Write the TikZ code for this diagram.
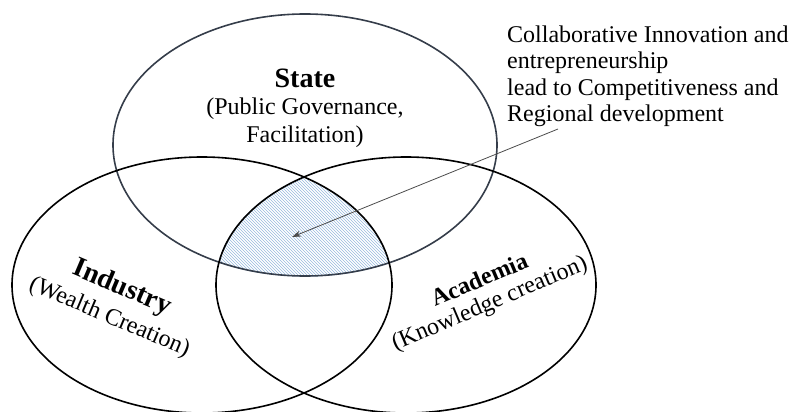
\documentclass[tikz,border=0pt]{standalone}
\usepackage{fontspec}
\setmainfont{Liberation Serif}
\usetikzlibrary{patterns,arrows.meta}
\definecolor{slate}{HTML}{353D4A}
\definecolor{hatchblue}{HTML}{96B8DE}
\definecolor{rimblue}{HTML}{B3CDE9}
\tikzset{
  ring/.style={line width=1.6pt, black},
  blurb/.style={font=\fontsize{24}{26.5}\selectfont, align=left, inner sep=0pt},
  sector/.style={align=center, inner sep=0pt}
}
\newcommand{\stateell}{(305,145) ellipse [x radius=192pt, y radius=131pt]}
\newcommand{\industryell}{(202,285) ellipse [x radius=190pt, y radius=128pt]}
\newcommand{\academiaell}{(406,285) ellipse [x radius=190pt, y radius=128pt]}
\newcommand{\headline}[2]{{\fontsize{#1}{#1}\selectfont\bfseries #2}}
\begin{document}
\begin{tikzpicture}[x=1pt, y=-1pt]
     \useasboundingbox (0,0) rectangle (795,412);

     % common core of the three spheres
     \begin{scope}
       \clip \stateell;
       \clip \industryell;
       \fill[pattern=north west lines, pattern color=hatchblue] \academiaell;
       \draw[rimblue, line width=1.2pt] \academiaell;
     \end{scope}
     \begin{scope}
       \clip \academiaell;
       \clip \industryell;
       \draw[rimblue, line width=1.2pt] \stateell;
     \end{scope}

     \draw[ring, slate] \stateell;
     \draw[ring] \industryell;
     \draw[ring] \academiaell;

     \node[sector, font=\fontsize{24}{27.5}\selectfont] (state) at (305,108)
       {\headline{28}{State}\\ (Public Governance,\\ Facilitation)};
     \node[sector, rotate=-23, font=\fontsize{24}{31}\selectfont] (industry) at (116,302)
       {\headline{28}{Industry}\\ (Wealth Creation)};
     \node[sector, rotate=23, font=\fontsize{24}{25}\selectfont] (academia) at (485,293)
       {\headline{24}{Academia}\\ (Knowledge creation)};

     \node[blurb, anchor=north west] (note) at (507,25.5)
       {Collaborative Innovation and\\ entrepreneurship\\
        lead to Competitiveness and\\ Regional development};

     \coordinate (tail) at (558,129);
     \coordinate (core) at (292,237);
     \draw[line width=0.8pt, black!70, -{Stealth[length=9pt, width=6pt]}] (tail) -- (core);

   \end{tikzpicture}
\end{document}
